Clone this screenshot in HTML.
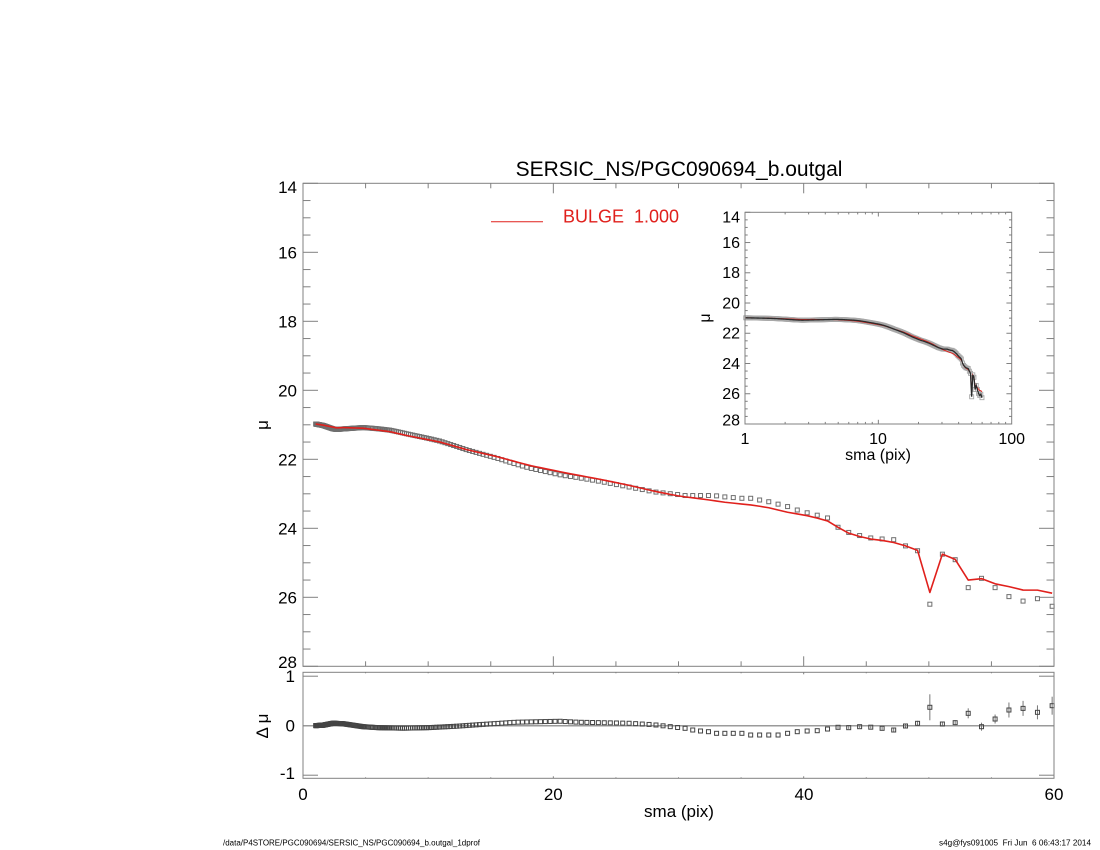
<!DOCTYPE html>
<html><head><meta charset="utf-8">
<style>
html,body{margin:0;padding:0;background:#fff;}
svg{display:block;font-family:"Liberation Sans",Arial,sans-serif;}
</style></head>
<body>
<svg id="s" xmlns="http://www.w3.org/2000/svg" width="1100" height="850" viewBox="0 0 1100 850">
<rect width="1100" height="850" fill="#fff"/>
<g id="ticks" stroke="#808080" stroke-width="1" fill="none"></g>
<g id="data"></g>

<!-- boxes -->
<rect x="303" y="183.3" width="751" height="483" fill="none" stroke="#808080" stroke-width="1"/>
<rect x="303" y="672.3" width="751" height="106" fill="none" stroke="#808080" stroke-width="1"/>
<rect x="745" y="212.3" width="266.7" height="211.7" fill="none" stroke="#808080" stroke-width="1"/>

<!-- title -->
<text x="679" y="176" font-size="21" text-anchor="middle" fill="#000">SERSIC_NS/PGC090694_b.outgal</text>

<!-- legend -->
<line x1="491" y1="221.7" x2="543" y2="221.7" stroke="#e0201c" stroke-width="1"/>
<text x="563" y="222.7" font-size="18" fill="#e0201c" style="white-space:pre">BULGE  1.000</text>

<!-- main y labels -->
<g font-size="17" text-anchor="end" fill="#000">
<text x="297" y="193">14</text>
<text x="297" y="258.3">16</text>
<text x="297" y="327.3">18</text>
<text x="297" y="396.3">20</text>
<text x="297" y="465.3">22</text>
<text x="297" y="534.3">24</text>
<text x="297" y="603.3">26</text>
<text x="297" y="668">28</text>
<text x="295" y="682">1</text>
<text x="295" y="731.7">0</text>
<text x="295" y="779">-1</text>
</g>
<text transform="translate(268,425) rotate(-90)" font-size="17" text-anchor="middle" fill="#000">μ</text>
<text transform="translate(268,726) rotate(-90)" font-size="17" text-anchor="middle" fill="#000" style="white-space:pre">Δ μ</text>

<!-- main x labels -->
<g font-size="17" text-anchor="middle" fill="#000">
<text x="303" y="800">0</text>
<text x="553.3" y="800">20</text>
<text x="804" y="800">40</text>
<text x="1054" y="800">60</text>
<text x="679" y="817">sma (pix)</text>
</g>

<!-- inset labels -->
<g font-size="16" text-anchor="end" fill="#000">
<text x="740" y="222.5">14</text>
<text x="740" y="248">16</text>
<text x="740" y="278">18</text>
<text x="740" y="308.5">20</text>
<text x="740" y="338.5">22</text>
<text x="740" y="369">24</text>
<text x="740" y="399">26</text>
<text x="740" y="425.5">28</text>
</g>
<g font-size="16" text-anchor="middle" fill="#000">
<text x="745" y="444">1</text>
<text x="878" y="444">10</text>
<text x="1011.7" y="444">100</text>
<text x="878" y="460">sma (pix)</text>
</g>
<text transform="translate(710,318) rotate(-90)" font-size="16" text-anchor="middle" fill="#000">μ</text>

<!-- footer -->
<text x="223" y="845.5" font-size="8" textLength="257" lengthAdjust="spacingAndGlyphs" fill="#000">/data/P4STORE/PGC090694/SERSIC_NS/PGC090694_b.outgal_1dprof</text>
<text x="939" y="845.5" font-size="8" textLength="152" lengthAdjust="spacingAndGlyphs" fill="#000" style="white-space:pre">s4g@fys091005  Fri Jun  6 06:43:17 2014</text>
</svg>
<script>
(function(){
const NS='http://www.w3.org/2000/svg';
const T=document.getElementById('ticks'), D=document.getElementById('data');
function el(tag,attrs,parent){const e=document.createElementNS(NS,tag);for(const k in attrs)e.setAttribute(k,attrs[k]);parent.appendChild(e);return e;}
function interp(K,x){if(x<=K[0][0])return K[0][1];for(let i=0;i<K.length-1;i++){if(x<=K[i+1][0]){const a=K[i],b=K[i+1];return a[1]+(x-a[0])/(b[0]-a[0])*(b[1]-a[1]);}}return K[K.length-1][1];}
const mx=x=>303+x*12.517, my=m=>183.3+(m-14)*34.5, ry=d=>725.7-d*49.5;
const ix=x=>745+Math.log10(x)*133.35, iy=m=>212.3+(m-14)*15.12;
function ln(x1,y1,x2,y2,p,st){el('line',Object.assign({x1:x1,y1:y1,x2:x2,y2:y2},st||{}),p);}

// ticks main
for(let v=14;v<=28.001;v+=0.5){const y=my(v);const L=(Math.abs(v%2)<1e-6)?15:7.5;ln(303,y,303+L,y,T);ln(1054,y,1054-L,y,T);}
for(let x=0;x<=60;x+=5){const px=mx(x);const L=(x%20==0)?10:5;ln(px,183.3,px,183.3+L,T);ln(px,666.3,px,666.3-L,T);
 const L2=(x%20==0)?2:1;ln(px,672.3,px,672.3+L2,T);ln(px,778.3,px,778.3-L2,T);}
[-1,0,1].forEach(d=>{const y=ry(d);ln(303,y,318,y,T);ln(1054,y,1039,y,T);});
// inset ticks
for(let v=14;v<=28.001;v+=0.5){const y=iy(v);const L=(Math.abs(v%2)<1e-6)?5.3:2.7;ln(745,y,745+L,y,T);ln(1011.7,y,1011.7-L,y,T);}
[1,10].forEach(d=>{for(let m=1;m<=9;m++){const px=ix(d*m);const L=(m==1)?4.2:2.1;ln(px,212.3,px,212.3+L,T);ln(px,424,px,424-L,T);}});

// data
const MK=[[0.9,20.97],[1.62,21.01],[2.69,21.09],[3.19,21.08],[4.82,21.10],[6.95,21.20],[8.28,21.31],[10.94,21.50],[13.07,21.72],[15.47,21.92],[18.13,22.18],[21.06,22.40],[23.73,22.58],[26.0,22.75],[28.25,22.94],[30.11,23.07],[32.11,23.16],[33.57,23.24],[35.70,23.32],[37.04,23.39],[38.63,23.53],[40.23,23.63],[41.83,23.77],[42.73,23.97],[43.59,24.14],[44.49,24.24],[45.34,24.31],[46.25,24.35],[47.18,24.41],[48.14,24.51],[49.10,24.64],[50.08,25.86],[51.09,24.74],[52.10,24.90],[53.14,25.50],[54.21,25.46],[55.30,25.61],[56.39,25.69],[57.51,25.79],[58.65,25.79],[59.85,25.88]];
const RK=[[0.9,0],[1.6,0.01],[2.4,0.05],[3.2,0.04],[4.0,0.01],[4.8,-0.02],[6,-0.04],[8,-0.05],[10,-0.04],[12.3,-0.01],[14,0.02],[17,0.07],[20.5,0.09],[22,0.07],[26,0.05],[28,0.02],[30.5,-0.053]];
const DL=[23.05,23.05,23.05,23.05,23.06,23.09,23.11,23.13,23.13,23.18,23.23,23.30,23.37,23.47,23.55,23.62,23.70,23.97,24.12,24.21,24.28,24.31,24.33,24.51,24.65,26.20,24.75,24.91,25.72,25.45,25.72,25.98,26.11,26.04,26.26];
const RL=[-0.053,-0.087,-0.107,-0.121,-0.154,-0.154,-0.154,-0.154,-0.188,-0.188,-0.188,-0.188,-0.154,-0.121,-0.107,-0.101,-0.067,-0.032,-0.04,-0.02,-0.03,-0.053,-0.087,-0.006,0.048,0.372,0.034,0.061,0.25,-0.02,0.135,0.317,0.35,0.27,0.404];
const EL=[1,1,1,1,1,1,1,1,1,1,1,1,1,1,1,1,1,1.2,1.2,1.2,1.2,1.5,1.5,2,2.5,13,2.5,2.5,5,4,4.5,7.5,7.5,7,9];
const N=207, xs=[];for(let k=0;k<N;k++)xs.push(59.85/Math.pow(1.02,N-1-k));
const model=[],data=[],resid=[],err=[];
for(let k=0;k<N;k++){const x=xs[k];const m=interp(MK,x);model.push(m);
 if(k>=N-35){const j=k-(N-35);data.push(DL[j]);resid.push(RL[j]);err.push(EL[j]);}
 else{const r=interp(RK,x);resid.push(r);data.push(m+r);err.push(0.8);}}

// residual zero line
ln(303,725.7,1054,725.7,D,{stroke:'#9a9a9a','stroke-width':1.5});

// main squares
for(let k=0;k<N;k++){const px=mx(xs[k]),py=my(data[k]);el('rect',{x:px-2,y:py-2,width:4,height:4,fill:'none',stroke:'#6f6f6f','stroke-width':1},D);}
// main model line
el('polyline',{points:xs.map((x,k)=>mx(x).toFixed(2)+','+my(model[k]).toFixed(2)).join(' '),fill:'none',stroke:'#e0201c','stroke-width':1.6,'stroke-linejoin':'round'},D);

// residual
for(let k=0;k<N;k++){const px=mx(xs[k]),py=ry(resid[k]);
 if(err[k]>1.1)ln(px,py-err[k],px,py+err[k],D,{stroke:'#777','stroke-width':1});
 el('rect',{x:px-2,y:py-2,width:4,height:4,fill:'none',stroke:'#444','stroke-width':1},D);}

// inset
for(let k=0;k<N;k++){const px=ix(xs[k]),py=iy(data[k]);el('rect',{x:px-2,y:py-2,width:4,height:4,fill:'none',stroke:'#a8a8a8','stroke-width':0.9},D);}
el('polyline',{points:xs.map((x,k)=>ix(x).toFixed(2)+','+iy(model[k]).toFixed(2)).join(' '),fill:'none',stroke:'#e0201c','stroke-width':0.9},D);
el('polyline',{points:xs.map((x,k)=>ix(x).toFixed(2)+','+iy(data[k]).toFixed(2)).join(' '),fill:'none',stroke:'#2a2a2a','stroke-width':1.3},D);
})();
</script>
</body></html>
